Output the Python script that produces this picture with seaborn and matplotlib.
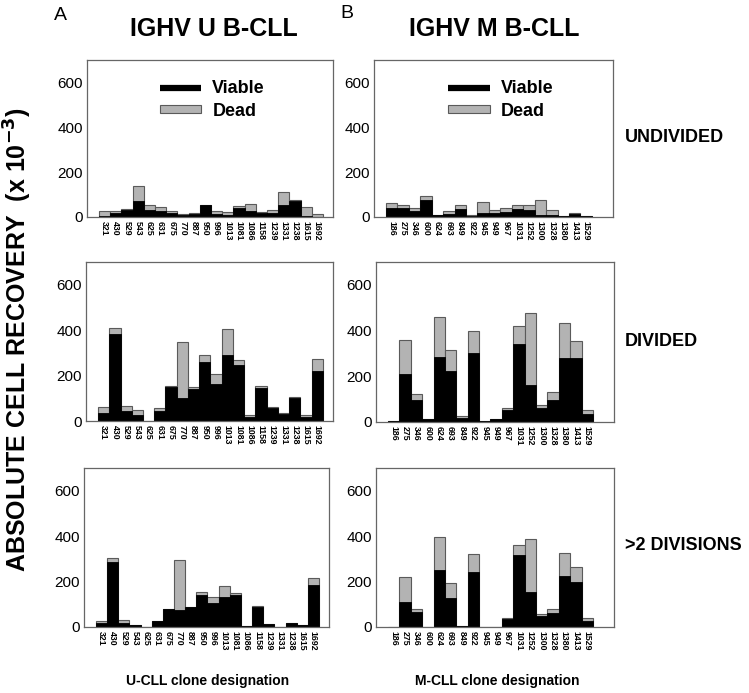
import matplotlib
matplotlib.use("Agg")
import matplotlib.pyplot as plt
import seaborn as sns
import pandas as pd
from matplotlib.lines import Line2D
from matplotlib.patches import Patch

# ---------------- data ----------------
u_clones = ["321", "430", "529", "543", "625", "631", "675", "770", "887", "950",
            "996", "1013", "1081", "1086", "1158", "1239", "1331", "1238", "1615", "1692"]
m_clones = ["186", "275", "346", "600", "624", "693", "849", "922", "945", "949",
            "967", "1031", "1252", "1300", "1328", "1380", "1413", "1529"]

# U-CLL
u_undiv_viable = [3, 20, 30, 71, 33, 27, 19, 9, 15, 53, 13, 10, 38, 25, 18, 16, 52, 72, 3, 1]
u_undiv_total = [25, 28, 36, 138, 52, 46, 27, 15, 16, 55, 27, 24, 50, 58, 22, 31, 111, 75, 46, 15]
u_div_viable = [35, 382, 46, 28, 0, 44, 150, 103, 143, 261, 165, 292, 248, 18, 146, 56, 29, 102, 18, 220]
u_div_total = [60, 408, 68, 47, 0, 59, 156, 346, 150, 289, 206, 404, 267, 27, 156, 63, 37, 105, 25, 274]
u_gt2_viable = [18, 287, 18, 9, 0, 25, 78, 74, 87, 140, 106, 134, 140, 4, 87, 13, 2, 18, 7, 186]
u_gt2_total = [28, 304, 30, 9, 0, 28, 81, 294, 89, 155, 131, 182, 149, 4, 92, 13, 2, 18, 7, 216]

# M-CLL
m_undiv_viable = [41, 41, 28, 77, 8, 15, 35, 6, 16, 20, 22, 34, 29, 8, 10, 3, 12, 6]
m_undiv_total = [61, 55, 42, 95, 11, 25, 54, 10, 66, 29, 38, 53, 55, 77, 30, 3, 20, 6]
m_div_viable = [6, 208, 96, 15, 285, 223, 19, 300, 4, 12, 54, 341, 163, 63, 96, 281, 280, 36]
m_div_total = [6, 358, 124, 15, 460, 317, 26, 400, 4, 12, 60, 418, 478, 76, 130, 434, 355, 54]
m_gt2_viable = [2, 112, 64, 0, 250, 126, 3, 242, 0, 2, 37, 315, 155, 47, 62, 225, 198, 25]
m_gt2_total = [2, 220, 78, 0, 397, 194, 3, 322, 0, 2, 40, 361, 387, 56, 81, 327, 265, 38]

yticks = [0, 200, 400, 600]
row_labels = ["UNDIVIDED", "DIVIDED", ">2 DIVISIONS"]

# ---------------- style ----------------
sns.set_theme(style="white")
plt.rcParams['font.family'] = ['Liberation Sans', 'DejaVu Sans']
plt.rcParams['text.color'] = 'black'
plt.rcParams['xtick.color'] = 'black'
plt.rcParams['ytick.color'] = 'black'

GRAY = "#b3b3b3"
EDGE = "#5a5a5a"

W, H = 749, 693
fig = plt.figure(figsize=(W / 100, H / 100), dpi=100)


def ax_at(x0, y0, x1, y1):
    return fig.add_axes([x0 / W, 1 - y1 / H, (x1 - x0) / W, (y1 - y0) / H])


positions = {
    (0, 0): (87, 60, 333, 217), (0, 1): (374, 60, 613, 217),
    (1, 0): (86, 262, 333, 421), (1, 1): (376, 262, 614, 422),
    (2, 0): (84, 468, 329, 627), (2, 1): (376, 468, 614, 627),
}

data = {
    (0, 0): (u_clones, u_undiv_viable, u_undiv_total),
    (1, 0): (u_clones, u_div_viable, u_div_total),
    (2, 0): (u_clones, u_gt2_viable, u_gt2_total),
    (0, 1): (m_clones, m_undiv_viable, m_undiv_total),
    (1, 1): (m_clones, m_div_viable, m_div_total),
    (2, 1): (m_clones, m_gt2_viable, m_gt2_total),
}

for (r, c), pos in positions.items():
    ax = ax_at(*pos)
    clones, viable, total = data[(r, c)]
    df = pd.DataFrame({"clone": clones, "viable": viable, "total": total})
    sns.barplot(data=df, x="clone", y="total", order=clones, color=GRAY,
                width=1.0, edgecolor=EDGE, linewidth=0.8, saturation=1, ax=ax)
    sns.barplot(data=df, x="clone", y="viable", order=clones, color="black",
                width=1.0, edgecolor="black", linewidth=0.6, saturation=1, ax=ax)
    ax.set_ylim(0, 700)
    if c == 0:
        ax.set_xlim(-1.57, 20.4)
    else:
        ax.set_xlim(-1.55, 19.35)
    ax.set_yticks(yticks)
    ax.set_yticklabels([str(v) for v in yticks], fontsize=11)
    ax.set_xlabel("")
    ax.set_ylabel("")
    ax.tick_params(axis="x", length=0, pad=3)
    ax.tick_params(axis="y", length=0, pad=3)
    for lbl in ax.get_xticklabels():
        lbl.set_rotation(-90)
        lbl.set_fontsize(6.3)
        lbl.set_fontweight("bold")
        lbl.set_va("top")
        lbl.set_ha("center")
    for s in ax.spines.values():
        s.set_color("#666666")
        s.set_linewidth(0.9)
    if r == 0:
        handles = [Line2D([0], [0], color="black", lw=4.5, solid_capstyle="butt"),
                   Patch(facecolor=GRAY, edgecolor=EDGE, linewidth=0.8)]
        ax.legend(handles, ["Viable", "Dead"], loc="upper center",
                  bbox_to_anchor=(0.51 if c == 0 else 0.53, 0.975),
                  frameon=False, handlelength=2.3, handleheight=0.3,
                  handletextpad=0.6, labelspacing=0.3,
                  prop={"weight": "bold", "size": 13})

# headings
fig.text(60 / W, 1 - 16 / H, "A", fontsize=14, ha="center", va="center")
fig.text(347 / W, 1 - 14 / H, "B", fontsize=14, ha="center", va="center")
fig.text(214 / W, 1 - 29 / H, "IGHV U B-CLL", fontsize=18, fontweight="bold",
         ha="center", va="center")
fig.text(494 / W, 1 - 29 / H, "IGHV M B-CLL", fontsize=18, fontweight="bold",
         ha="center", va="center")

# row labels
for lbl, y in zip(row_labels, [138, 342, 546]):
    fig.text(625 / W, 1 - y / H, lbl, fontsize=13, fontweight="bold",
             ha="left", va="center")

# y label
fig.text(18 / W, 1 - 340 / H, r"ABSOLUTE CELL RECOVERY  (x 10$^{\mathbf{-3}}$)",
         fontsize=18, fontweight="bold", rotation=90, ha="center", va="center")

# x labels
fig.text(208 / W, 1 - 681 / H, "U-CLL clone designation", fontsize=10,
         fontweight="bold", ha="center", va="center")
fig.text(497 / W, 1 - 681 / H, "M-CLL clone designation", fontsize=10,
         fontweight="bold", ha="center", va="center")

fig.savefig("out.png", dpi=100)
